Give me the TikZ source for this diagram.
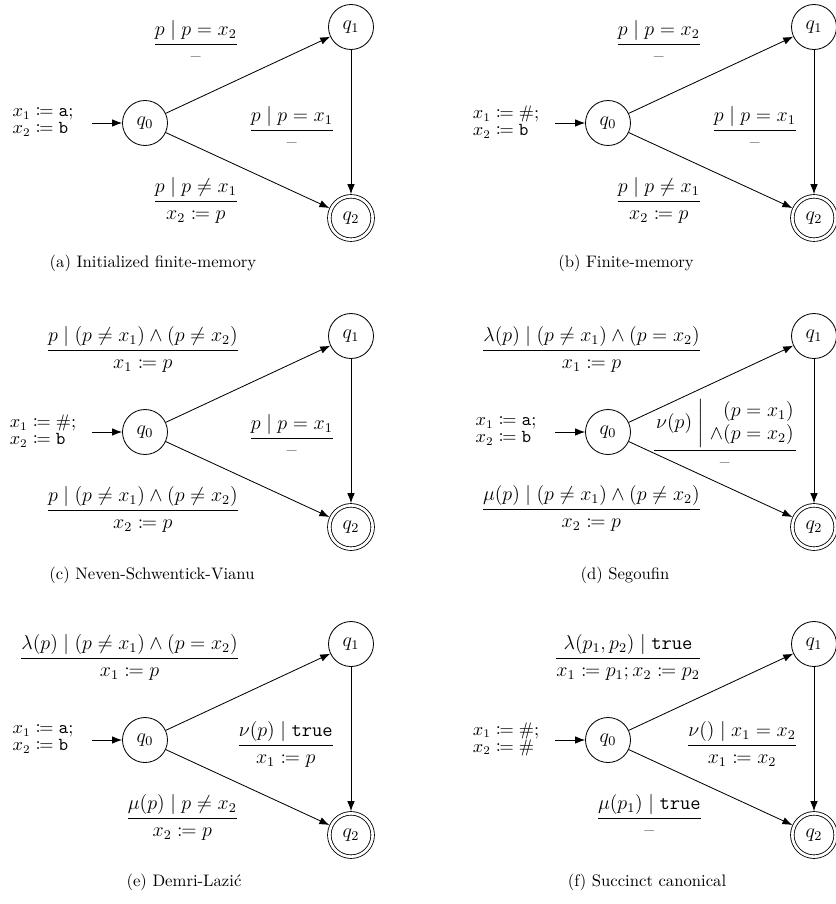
\documentclass[tikz,border=0pt]{standalone}
\usepackage{amsmath, amssymb, mathtools}
\usetikzlibrary{arrows.meta, positioning}

\begin{document}
\begin{tikzpicture}[
    x=0.6pt, y=-0.6pt,
    stnode/.style={circle, draw, line width=0.5pt, minimum size=27pt, inner sep=0pt, font=\large},
    final/.style={stnode, double, double distance=1.6pt, minimum size=26pt, outer sep=1.3pt},
    arrow/.style={-{Latex[length=6pt, width=4.5pt]}, line width=0.5pt},
    guard/.style={anchor=base east, inner sep=0pt, font=\large},
    init/.style={align=left, inner sep=0pt, font=\fontsize{10.5}{10.2}\selectfont},
    subcap/.style={inner sep=0pt, font=\normalsize}
]
\useasboundingbox (0,0) rectangle (836,904);

% (a)
\begin{scope}
\node[stnode] (a0) at (145,123) {$q_0$};
\node[stnode] (a1) at (351,27) {$q_1$};
\node[final] (a2) at (351,218) {$q_2$};
\coordinate (ain) at (92,123);
\node[init] (ainit) at (43,122) {$x_1 \coloneqq \mathtt{a};$\\$x_2 \coloneqq \mathtt{b}$};
\draw[arrow] (ain) -- (a0);
\draw[arrow] (a0) -- (a1);
\draw[arrow] (a0) -- (a2);
\draw[arrow] (a1) -- (a2);
\node[guard] (a01) at (239,49) {$\dfrac{p \mid p = x_2}{\text{--}}$};
\node[guard] (a12) at (335,135) {$\dfrac{p \mid p = x_1}{\text{--}}$};
\node[guard] (a02) at (239,206) {$\dfrac{p \mid p \neq x_1}{x_2 \coloneqq p}$};
\node[subcap] (acap) at (153,263) {(a) Initialized finite-memory};
\end{scope}

% (b)
\begin{scope}[shift={(463,0)}]
\node[stnode] (b0) at (145,123) {$q_0$};
\node[stnode] (b1) at (351,27) {$q_1$};
\node[final] (b2) at (351,218) {$q_2$};
\coordinate (bin) at (92,123);
\node[init] (binit) at (43,122) {$x_1 \coloneqq \#;$\\$x_2 \coloneqq \mathtt{b}$};
\draw[arrow] (bin) -- (b0);
\draw[arrow] (b0) -- (b1);
\draw[arrow] (b0) -- (b2);
\draw[arrow] (b1) -- (b2);
\node[guard] (b01) at (239,49) {$\dfrac{p \mid p = x_2}{\text{--}}$};
\node[guard] (b12) at (335,135) {$\dfrac{p \mid p = x_1}{\text{--}}$};
\node[guard] (b02) at (239,206) {$\dfrac{p \mid p \neq x_1}{x_2 \coloneqq p}$};
\node[subcap] (bcap) at (163,263) {(b) Finite-memory};
\end{scope}

% (c)
\begin{scope}[shift={(0,309)}]
\node[stnode] (c0) at (145,123) {$q_0$};
\node[stnode] (c1) at (351,27) {$q_1$};
\node[final] (c2) at (351,218) {$q_2$};
\coordinate (cin) at (92,123);
\node[init] (cinit) at (43,122) {$x_1 \coloneqq \#;$\\$x_2 \coloneqq \mathtt{b}$};
\draw[arrow] (cin) -- (c0);
\draw[arrow] (c0) -- (c1);
\draw[arrow] (c0) -- (c2);
\draw[arrow] (c1) -- (c2);
\node[guard] (c01) at (240,46) {$\dfrac{p \mid (p \neq x_1) \wedge (p \neq x_2)}{x_1 \coloneqq p}$};
\node[guard] (c12) at (335,134) {$\dfrac{p \mid p = x_1}{\text{--}}$};
\node[guard] (c02) at (240,206) {$\dfrac{p \mid (p \neq x_1) \wedge (p \neq x_2)}{x_2 \coloneqq p}$};
\node[subcap] (ccap) at (152,266) {(c) Neven-Schwentick-Vianu};
\end{scope}

% (d)
\begin{scope}[shift={(463,309)}]
\node[stnode] (d0) at (145,123) {$q_0$};
\node[stnode] (d1) at (351,27) {$q_1$};
\node[final] (d2) at (351,218) {$q_2$};
\coordinate (din) at (92,123);
\node[init] (dinit) at (43,122) {$x_1 \coloneqq \mathtt{a};$\\$x_2 \coloneqq \mathtt{b}$};
\draw[arrow] (din) -- (d0);
\draw[arrow] (d0) -- (d1);
\draw[arrow] (d0) -- (d2);
\draw[arrow] (d1) -- (d2);
\node[guard] (d01) at (239,46) {$\dfrac{\lambda(p) \mid (p \neq x_1) \wedge (p = x_2)}{x_1 \coloneqq p}$};
\node[guard] (d12) at (335,146) {$\dfrac{\left.\nu(p)\;\middle|\;\begin{array}{@{}r@{}}(p = x_1)\\ \wedge(p = x_2)\end{array}\right.}{\text{--}}$};
\node[guard] (d02) at (239,205) {$\dfrac{\mu(p) \mid (p \neq x_1) \wedge (p \neq x_2)}{x_2 \coloneqq p}$};
\node[subcap] (dcap) at (162,266) {(d) Segoufin};
\end{scope}

% (e)
\begin{scope}[shift={(0,617)}]
\node[stnode] (e0) at (145,123) {$q_0$};
\node[stnode] (e1) at (351,27) {$q_1$};
\node[final] (e2) at (351,218) {$q_2$};
\coordinate (ein) at (92,123);
\node[init] (einit) at (43,122) {$x_1 \coloneqq \mathtt{a};$\\$x_2 \coloneqq \mathtt{b}$};
\draw[arrow] (ein) -- (e0);
\draw[arrow] (e0) -- (e1);
\draw[arrow] (e0) -- (e2);
\draw[arrow] (e1) -- (e2);
\node[guard] (e01) at (240,46) {$\dfrac{\lambda(p) \mid (p \neq x_1) \wedge (p = x_2)}{x_1 \coloneqq p}$};
\node[guard] (e12) at (335,133) {$\dfrac{\nu(p) \mid \mathtt{true}}{x_1 \coloneqq p}$};
\node[guard] (e02) at (239,206) {$\dfrac{\mu(p) \mid p \neq x_2}{x_2 \coloneqq p}$};
\node[subcap] (ecap) at (184,265) {(e) Demri-Lazić};
\end{scope}

% (f)
\begin{scope}[shift={(463,617)}]
\node[stnode] (f0) at (145,123) {$q_0$};
\node[stnode] (f1) at (351,27) {$q_1$};
\node[final] (f2) at (351,218) {$q_2$};
\coordinate (fin) at (92,123);
\node[init] (finit) at (43,122) {$x_1 \coloneqq \#;$\\$x_2 \coloneqq \#$};
\draw[arrow] (fin) -- (f0);
\draw[arrow] (f0) -- (f1);
\draw[arrow] (f0) -- (f2);
\draw[arrow] (f1) -- (f2);
\node[guard] (f01) at (239,46) {$\dfrac{\lambda(p_1, p_2) \mid \mathtt{true}}{x_1 \coloneqq p_1; x_2 \coloneqq p_2}$};
\node[guard] (f12) at (335,133) {$\dfrac{\nu() \mid x_1 = x_2}{x_1 \coloneqq x_2}$};
\node[guard] (f02) at (240,206) {$\dfrac{\mu(p_1) \mid \mathtt{true}}{\text{--}}$};
\node[subcap] (fcap) at (184,265) {(f) Succinct canonical};
\end{scope}
\end{tikzpicture}
\end{document}
